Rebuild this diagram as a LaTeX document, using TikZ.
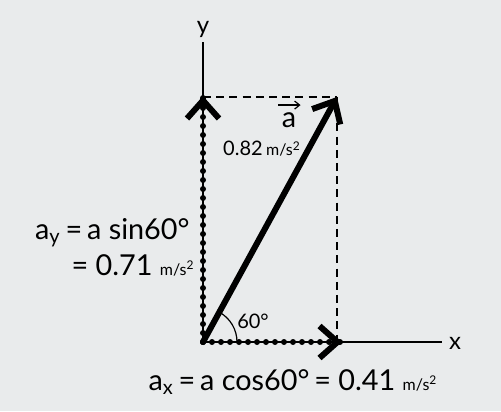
\documentclass[tikz,border=0pt]{standalone}
\usepackage{fontspec}
\setmainfont{Lato}
\usepackage{tikz}
\usetikzlibrary{arrows.meta,calc}
\definecolor{vbg}{HTML}{E9EBEC}
\tikzset{
  vaxis/.style={black, line width=0.6pt},
  vvec/.style={black, line width=3pt, line cap=round,
               -{Straight Barb[length=9pt, width=16pt, line width=3pt]}},
  vcomp/.style={black, line width=3pt, line cap=round,
                dash pattern=on 0pt off 4.5pt},
  vtip/.style={black, line width=3pt, line cap=round,
               -{Straight Barb[length=9pt, width=16pt, line width=3pt]}},
  vguide/.style={black, line width=1pt, dash pattern=on 4pt off 2.6pt},
  vlbl/.style={black, font=\Large, inner sep=0pt},
}
\newcommand{\msq}{{\footnotesize m/s\textsuperscript{2}}}

\begin{document}
\begin{tikzpicture}[x=0.5pt,y=0.5pt]

  % page and background
  \fill[vbg] (-203,-69) rectangle (298,342);
  \useasboundingbox (-203,-69) rectangle (298,342);

  \coordinate (O) at (0,0);
  \coordinate (A) at (134,245);
  \coordinate (Cx) at (134,0);
  \coordinate (Cy) at (0,245);
  \coordinate (Tx) at (139,0);
  \coordinate (Ty) at (0,246);
  \coordinate (Xend) at (239,0);
  \coordinate (Yend) at (0,300);

  % axes
  \draw[vaxis] (O) -- (Xend);
  \draw[vaxis] (O) -- (Yend);
  \node[font=\large, inner sep=0pt] (xl) at (252,-1) {x};
  \node[font=\large, inner sep=0pt] (yl) at (0,313) {y};

  % dashed box
  \draw[vguide] (Cy) -- (A);
  \draw[vguide] (A) -- (Cx);

  % components
  \draw[vcomp] (O) -- ($(Tx)+(-6,0)$);
  \draw[vtip] ($(Tx)+(-2,0)$) -- (Tx);
  \draw[vcomp] (O) -- ($(Ty)+(0,-6)$);
  \draw[vtip] ($(Ty)+(0,-2)$) -- (Ty);

  % vector a
  \draw[vvec] (O) -- (A);

  % angle
  \draw[black, line width=0.6pt] (34,0) arc[start angle=0, end angle=61.3, radius=34];
  \node[font=\normalsize, inner sep=0pt] (ang) at (50,21) {60°};

  % labels
  \node[font=\Large, inner sep=0pt] (va) at (86,222) {a};
  \draw[black, line width=0.6pt, -{Straight Barb[length=2.5pt, width=4pt]}]
       ($(va.north west)+(-3,7)$) -- ($(va.north east)+(4,7)$);
  \node[font=\normalsize, inner sep=0pt] (mag) at (59,193) {0.82\,\msq};
  \node[vlbl, anchor=east] (ay) at (-13,109) {a\textsubscript{y}\,=\,a sin60°};
  \node[vlbl, anchor=east] (ayv) at (-8,77) {=\ 0.71 \msq};
  \node[vlbl] (ax) at (90,-40) {a\textsubscript{x}\,=\,a cos60°\,=\ 0.41 \msq};

\end{tikzpicture}
\end{document}
